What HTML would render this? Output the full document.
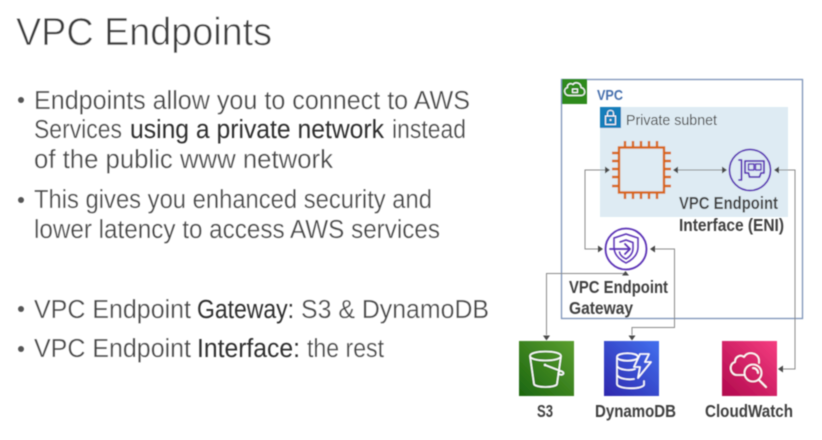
<!DOCTYPE html>
<html><head><meta charset="utf-8"><style>
html,body{margin:0;padding:0;background:#fff}
svg{display:block}
text{font-family:"Liberation Sans",sans-serif}
.t{fill:#444;font-size:25.5px;stroke:#fff;stroke-width:.2px}
.d{fill:#2e2e2e;font-size:25.5px}
.b{fill:#3f3f3f;font-size:17.5px;font-weight:bold}
.w{fill:none;stroke:#fff;stroke-width:1.6;stroke-linejoin:round;stroke-linecap:round}
.p{fill:none;stroke:#5a30b5;stroke-width:1.8;stroke-linejoin:round;stroke-linecap:round}
.o{stroke:#d86613;stroke-width:2.4;fill:none}
.l{fill:none;stroke:#8a8a8a;stroke-width:1}
.a{fill:#4a4a4a}
</style></head><body>
<svg width="822" height="440" viewBox="0 0 822 440" xmlns="http://www.w3.org/2000/svg">
<defs>
<linearGradient id="g1" x1="0" y1="1" x2="1" y2="0"><stop offset="0" stop-color="#1b660f"/><stop offset="1" stop-color="#5a9e2f"/></linearGradient>
<linearGradient id="g2" x1="0" y1="1" x2="1" y2="0"><stop offset="0" stop-color="#2e27ad"/><stop offset="1" stop-color="#4270ee"/></linearGradient>
<linearGradient id="g3" x1="0" y1="1" x2="1" y2="0"><stop offset="0" stop-color="#b0084d"/><stop offset="1" stop-color="#f53d80"/></linearGradient>
<filter id="bl" x="-5%" y="-5%" width="110%" height="110%"><feGaussianBlur stdDeviation="0.4"/></filter>
</defs>
<rect width="822" height="440" fill="#fff"/>
<g filter="url(#bl)">
<text x="16" y="45" font-size="38.500" fill="#3c3c3c" stroke="#fff" stroke-width=".5" textLength="256" lengthAdjust="spacingAndGlyphs">VPC Endpoints</text>

<circle cx="21" cy="100" r="3" fill="#555"/>
<circle cx="21" cy="200" r="3" fill="#555"/>
<circle cx="21" cy="309" r="3" fill="#555"/>
<circle cx="21" cy="349" r="3" fill="#555"/>

<text class="t" x="34" y="109" textLength="436" lengthAdjust="spacingAndGlyphs">Endpoints allow you to connect to AWS</text>
<text class="t" x="34" y="138" textLength="88" lengthAdjust="spacingAndGlyphs">Services</text>
<text class="d" x="130" y="138" textLength="254" lengthAdjust="spacingAndGlyphs">using a private network</text>
<text class="t" x="392" y="138" textLength="74" lengthAdjust="spacingAndGlyphs">instead</text>
<text class="t" x="34" y="168" textLength="299" lengthAdjust="spacingAndGlyphs">of the public www network</text>
<text class="t" x="34" y="208" textLength="398" lengthAdjust="spacingAndGlyphs">This gives you enhanced security and</text>
<text class="t" x="34" y="238" textLength="406" lengthAdjust="spacingAndGlyphs">lower latency to access AWS services</text>
<text class="t" x="34" y="318" textLength="157" lengthAdjust="spacingAndGlyphs">VPC Endpoint</text>
<text class="d" x="197" y="318" textLength="97" lengthAdjust="spacingAndGlyphs">Gateway:</text>
<text class="t" x="301" y="318" textLength="188" lengthAdjust="spacingAndGlyphs">S3 &amp; DynamoDB</text>
<text class="t" x="34" y="357" textLength="157" lengthAdjust="spacingAndGlyphs">VPC Endpoint</text>
<text class="d" x="197" y="357" textLength="103" lengthAdjust="spacingAndGlyphs">Interface:</text>
<text class="t" x="307" y="357" textLength="77" lengthAdjust="spacingAndGlyphs">the rest</text>

<!-- subnet -->
<rect x="600" y="107" width="188" height="110" fill="#deebf3"/>
<!-- VPC -->
<rect x="561.500" y="79.500" width="241" height="239" fill="none" stroke="#7d93b8" stroke-width="1.300"/>
<rect x="562" y="79" width="25" height="25" fill="#2f8a1e"/>
<path class="w" style="stroke-width:1.200" d="M569 95.500h12c5 0 5-7 0-8c0-5-6-6-8-3c-3-2-6 0-5.500 3c-4.500 1-3.500 8 1.500 8z"/>
<rect x="572.500" y="89" width="5" height="3.500" fill="none" stroke="#fff" stroke-width="1"/>
<text x="597" y="100" font-size="15" font-weight="bold" fill="#4670ad" textLength="26" lengthAdjust="spacingAndGlyphs">VPC</text>

<rect x="600" y="107" width="21" height="21" fill="#147eba"/>
<rect x="605.500" y="116" width="10" height="8.500" fill="none" stroke="#fff" stroke-width="1"/>
<path d="M607.500 116v-3c0-3.500 6-3.500 6 0v3" fill="none" stroke="#fff" stroke-width="1"/>
<circle cx="610.500" cy="120" r="1" fill="#fff"/>
<text x="626" y="125" font-size="15" fill="#4c4c4c" textLength="91" lengthAdjust="spacingAndGlyphs">Private subnet</text>

<!-- EC2 chip -->
<rect x="619" y="147.500" width="45" height="45" class="o"/>
<path class="o" d="M625 147v-6M633 147v-6M641 147v-6M649 147v-6M657 147v-6M625 193v6M633 193v6M641 193v6M649 193v6M657 193v6M619 153h-7M619 161h-7M619 169h-7M619 177h-7M619 186h-7M664 153h7M664 161h7M664 169h7M664 177h7M664 186h7"/>

<!-- ENI icon -->
<circle cx="750" cy="170" r="20.500" class="p"/>
<path class="p" d="M739 160h2.500v20h-2.500"/>
<path class="p" d="M745 161h19v12h-3l-1.500 4h-10l-1-4h-3.500z"/>
<rect x="748.500" y="164" width="5.500" height="6" class="p" style="stroke-width:1.400"/>
<rect x="755.500" y="164" width="5.500" height="6" class="p" style="stroke-width:1.400"/>

<!-- Gateway icon -->
<circle cx="626" cy="249" r="20.500" class="p"/>
<path class="p" d="M626 234l12 4v9c0 8-6 13-12 16c-6-3-12-8-12-16v-9z" style="stroke-width:1.500"/>
<path class="p" d="M620 242l6-2 7 2.500v6c0 5-3 8-7 10.500c-3-1.500-6-4-6.500-7" style="stroke-width:1.500"/>
<path class="p" d="M610 249h20M625 244l5 5-5 5"/>

<!-- connectors -->
<path class="l" d="M598 249H585V170H605"/>
<path class="l" d="M677 170H722"/>
<path class="l" d="M779 170H795V369H783"/>
<path class="l" d="M625 273.500H546.500V335"/>
<path class="l" d="M655 249H674.500V327.500H632V335"/>
<path class="a" d="M605 166.500l5 3.500-5 3.500zM673 170l5-3.500v7zM727 170l-5-3.500v7zM774 170l5-3.500v7zM603 249l-5-3.500v7zM650 249l5-3.500v7zM778 369l5-3.500v7zM546.500 340.500l-3.500-5h7zM632 340.500l-3.500-5h7zM625.500 271l3.500 4.500h-7z"/>

<!-- labels -->
<text class="b" x="679" y="209" textLength="99" lengthAdjust="spacingAndGlyphs">VPC Endpoint</text>
<text class="b" x="679" y="231" textLength="105" lengthAdjust="spacingAndGlyphs">Interface (ENI)</text>
<text class="b" x="569" y="293" textLength="99" lengthAdjust="spacingAndGlyphs">VPC Endpoint</text>
<text class="b" x="569" y="314" textLength="64" lengthAdjust="spacingAndGlyphs">Gateway</text>

<!-- S3 -->
<rect x="519" y="341" width="55" height="55" fill="url(#g1)"/>
<path class="w" d="M530 356c0-6 31-6 31 0c0 6-31 6-31 0zM530 356l4 28c1 4 22 4 23 0l4-28"/>
<path class="w" d="M545 365l17 6.500c3 1.500 1 4-2 3c-2 0-2-2-.5-3"/>
<circle cx="545" cy="365" r="1.200" fill="#fff"/>
<!-- DynamoDB -->
<rect x="604" y="341" width="55" height="55" fill="url(#g2)"/>
<path class="w" d="M617 357c0-5 21-5 21 0c0 5-21 5-21 0zM617 357v27c0 5 24 6 27 1v-4M617 366c2 4 13 5 18 3M617 375c2 4 12 5 17 4"/>
<path class="w" d="M640 354h9l-4 8h6l-13 16 2-11h-6z"/>
<!-- CloudWatch -->
<rect x="722" y="341" width="55" height="55" fill="url(#g3)"/>
<path class="w" d="M744 375h-7c-7 0-9-11-2-13c0-5 5-8 9-5c3-6 14-5 15 3c0 1 0 2 0 3"/>
<circle cx="753" cy="373" r="8.500" class="w"/>
<path class="w" d="M753 368a5 5 0 0 1 5 5M759 380l7 7" style="stroke-width:1.800"/>

<text class="b" x="537" y="417" textLength="16" lengthAdjust="spacingAndGlyphs">S3</text>
<text class="b" x="595" y="417" textLength="81" lengthAdjust="spacingAndGlyphs">DynamoDB</text>
<text class="b" x="705" y="417" textLength="88" lengthAdjust="spacingAndGlyphs">CloudWatch</text>
</g>
</svg>
</body></html>
